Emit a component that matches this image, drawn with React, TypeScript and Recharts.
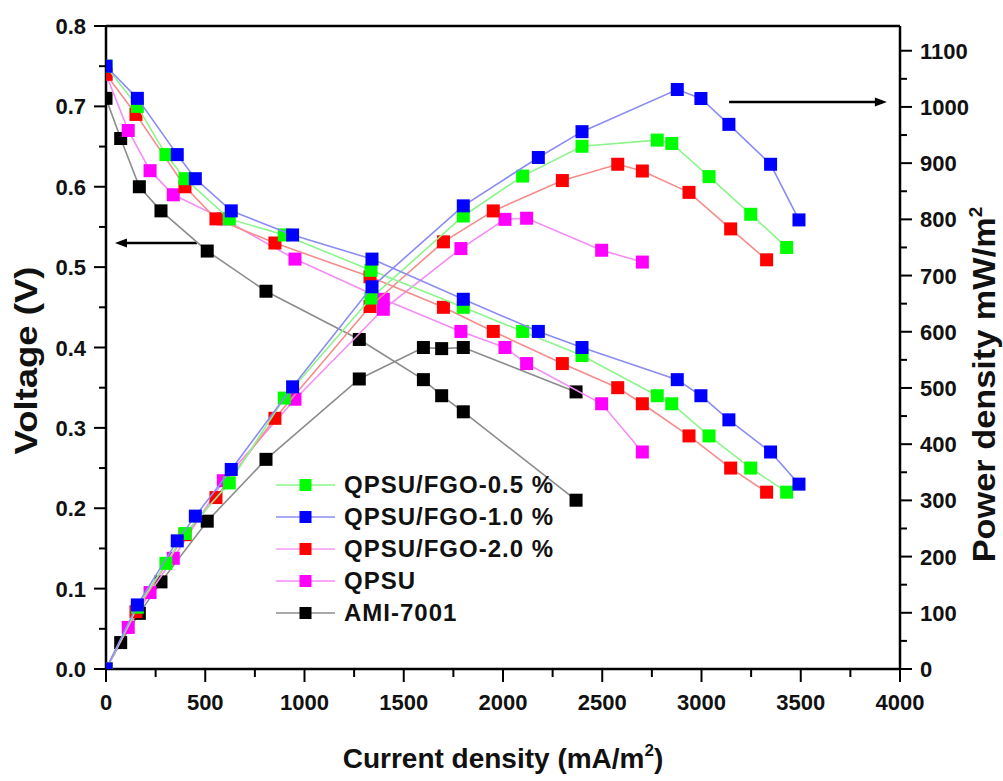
import React from 'react';
import { ScatterChart, Scatter, XAxis, YAxis, ReferenceLine, Legend } from 'recharts';

// current density (mA/m2), voltage (V), power density (mW/m2) per membrane
const currentFgo05 = [0, 158, 302, 398, 621, 898, 1335, 1800, 2099, 2398, 2777, 2850, 3038, 3248, 3429];
const voltageFgo05 = [0.75, 0.70, 0.64, 0.61, 0.56, 0.54, 0.496, 0.45, 0.42, 0.39, 0.34, 0.33, 0.29, 0.25, 0.22];
const powerFgo05 = [0, 110, 188, 241, 331, 482, 660, 806, 877, 930, 941, 935, 876, 809, 750];

const currentFgo10 = [0, 158, 359, 450, 631, 940, 1340, 1800, 2178, 2398, 2878, 2997, 3138, 3348, 3491];
const voltageFgo10 = [0.75, 0.71, 0.64, 0.61, 0.57, 0.54, 0.51, 0.46, 0.42, 0.40, 0.36, 0.34, 0.31, 0.27, 0.23];
const powerFgo10 = [0, 114, 228, 272, 355, 502, 680, 824, 910, 956, 1031, 1015, 969, 898, 799];

const currentFgo20 = [0, 151, 398, 554, 851, 1330, 1700, 1951, 2299, 2578, 2702, 2937, 3147, 3328];
const voltageFgo20 = [0.74, 0.69, 0.60, 0.56, 0.53, 0.488, 0.45, 0.42, 0.38, 0.35, 0.33, 0.29, 0.25, 0.22];
const powerFgo20 = [0, 102, 239, 305, 446, 645, 760, 815, 869, 898, 886, 848, 783, 728];

const currentQpsu = [0, 112, 222, 339, 591, 952, 1397, 1788, 2010, 2119, 2497, 2702];
const voltageQpsu = [0.74, 0.67, 0.62, 0.59, 0.56, 0.51, 0.46, 0.42, 0.40, 0.38, 0.33, 0.27];
const powerQpsu = [0, 74, 136, 197, 335, 480, 640, 748, 800, 802, 745, 724];

const currentAmi = [0, 74, 168, 277, 510, 806, 1276, 1599, 1691, 1800, 2368];
const voltageAmi = [0.71, 0.66, 0.60, 0.57, 0.52, 0.47, 0.41, 0.36, 0.34, 0.32, 0.21];
const powerAmi = [0, 47, 99, 155, 263, 373, 516, 572, 570, 572, 493];

const voltageTicks = [0, 0.05, 0.1, 0.15, 0.2, 0.25, 0.3, 0.35, 0.4, 0.45, 0.5, 0.55, 0.6, 0.65, 0.7, 0.75, 0.8];
const powerTicks = [0, 50, 100, 150, 200, 250, 300, 350, 400, 450, 500, 550, 600, 650, 700, 750, 800, 850, 900, 950, 1000, 1050, 1100];
const currentTicks = [0, 250, 500, 750, 1000, 1250, 1500, 1750, 2000, 2250, 2500, 2750, 3000, 3250, 3500, 3750, 4000];

// arrows telling which curves belong to which axis
const voltageArrow = [{ x: 458, y: 0.53 }, { x: 45, y: 0.53 }];
const powerArrow = [{ x: 3139, y: 1009 }, { x: 3934, y: 1009 }];

const FONT = '"Liberation Sans", Arial, sans-serif';

const series = [
  { name: 'QPSU/FGO-0.5 %', current: currentFgo05, voltage: voltageFgo05, power: powerFgo05, fill: '#00ff00', line: '#8cf58c', legendLine: '#8cf58c' },
  { name: 'QPSU/FGO-1.0 %', current: currentFgo10, voltage: voltageFgo10, power: powerFgo10, fill: '#0000ff', line: '#8c8cf5', legendLine: '#8c8cf5' },
  { name: 'QPSU/FGO-2.0 %', current: currentFgo20, voltage: voltageFgo20, power: powerFgo20, fill: '#ff0000', line: '#f58c8c', legendLine: '#f59cf5' },
  { name: 'QPSU', current: currentQpsu, voltage: voltageQpsu, power: powerQpsu, fill: '#ff00ff', line: '#f58cf5', legendLine: '#f58cf5' },
  { name: 'AMI-7001', current: currentAmi, voltage: voltageAmi, power: powerAmi, fill: '#000000', line: '#8c8c8c', legendLine: '#8c8c8c' },
];

// drawing order: black at the bottom, blue on top
const drawOrder = [4, 3, 2, 0, 1];

const tickText = { fontFamily: FONT, fontWeight: 700, fontSize: 22, fill: '#111' };

const LeftTick = (props: any) => {
  const { x, y, payload } = props;
  const v = payload.value;
  const major = Math.round(v * 100) % 10 === 0;
  return (
    <g>
      <line x1={x} y1={y} x2={x - (major ? 12 : 7)} y2={y} stroke="#000" strokeWidth={2} />
      {major && (
        <text x={x - 20} y={y + 8} textAnchor="end" {...tickText}>
          {v.toFixed(1)}
        </text>
      )}
    </g>
  );
};

const RightTick = (props: any) => {
  const { x, y, payload } = props;
  const v = payload.value;
  const major = v % 100 === 0;
  return (
    <g>
      <line x1={x} y1={y} x2={x + (major ? 12 : 7)} y2={y} stroke="#000" strokeWidth={2} />
      {major && (
        <text x={x + 20} y={y + 8} textAnchor="start" {...tickText}>
          {v}
        </text>
      )}
    </g>
  );
};

const BottomTick = (props: any) => {
  const { x, y, payload } = props;
  const v = payload.value;
  const major = v % 500 === 0;
  return (
    <g>
      <line x1={x} y1={y} x2={x} y2={y + (major ? 13 : 8)} stroke="#000" strokeWidth={2} />
      {major && (
        <text x={x} y={y + 41} textAnchor="middle" {...tickText}>
          {v}
        </text>
      )}
    </g>
  );
};

const ArrowShape = (p: any) => {
  const { x1, y1, x2, y2 } = p;
  const dir = Math.sign(x2 - x1);
  return (
    <g>
      <line x1={x1} y1={y1} x2={x2 - dir * 8} y2={y2} stroke="#000" strokeWidth={2.5} />
      <polygon points={`${x2},${y2} ${x2 - dir * 12},${y2 - 4.5} ${x2 - dir * 12},${y2 + 4.5}`} fill="#000" />
    </g>
  );
};

const titleStyle = { fontFamily: FONT, fontWeight: 700, fill: '#111' };

const voltageTitle = (props: any) => {
  const { x, y, height } = props.viewBox;
  return (
    <text
      transform={`translate(${x - 9}, ${y + height / 2 + 13}) rotate(-90)`}
      textAnchor="middle"
      fontSize={31}
      textLength={188}
      lengthAdjust="spacingAndGlyphs"
      {...titleStyle}
    >
      Voltage (V)
    </text>
  );
};

const powerTitle = (props: any) => {
  const { x, y, height } = props.viewBox;
  return (
    <text
      transform={`translate(${x + 95}, ${y + height / 2 + 37}) rotate(-90)`}
      textAnchor="middle"
      fontSize={31}
      {...titleStyle}
    >
      <tspan textLength={345} lengthAdjust="spacingAndGlyphs">Power density mW/m</tspan>
      <tspan dy={-13} fontSize={19}>2</tspan>
    </text>
  );
};

const currentTitle = (props: any) => {
  const { x, y, width } = props.viewBox;
  return (
    <text x={x + width / 2} y={y + 99} textAnchor="middle" fontSize={28} {...titleStyle}>
      Current density (mA/m<tspan dy={-12} fontSize={17}>2</tspan>
      <tspan dy={12}>)</tspan>
    </text>
  );
};

const LegendBox = () => (
  <div style={{ fontFamily: FONT, fontWeight: 700, fontSize: 24, letterSpacing: 1, color: '#111' }}>
    {series.map((s) => (
      <div key={s.name} style={{ display: 'flex', alignItems: 'center', height: 32 }}>
        <svg width={68} height={16} style={{ display: 'block' }}>
          <line x1={0} y1={8} x2={59} y2={8} stroke={s.legendLine} strokeWidth={1.5} />
          <rect x={23.5} y={2} width={12} height={12} fill={s.fill} />
        </svg>
        <span style={{ lineHeight: '32px' }}>{s.name}</span>
      </div>
    ))}
  </div>
);

export default function App() {
  return (
    <div style={{ position: 'absolute', left: 0, top: 0, background: '#fff' }}>
      <ScatterChart width={1003} height={781} margin={{ top: 26, right: 33, bottom: 62, left: 46 }}>
        <XAxis
          xAxisId="x"
          dataKey="x"
          type="number"
          domain={[0, 4000]}
          ticks={currentTicks}
          interval={0}
          allowDataOverflow
          height={50}
          tickSize={0}
          tickMargin={0}
          tickLine={false}
          tick={<BottomTick />}
          axisLine={{ stroke: '#000', strokeWidth: 2.5 }}
          label={currentTitle}
        />
        <YAxis
          yAxisId="left"
          dataKey="y"
          type="number"
          domain={[0, 0.8]}
          ticks={voltageTicks}
          interval={0}
          allowDataOverflow
          width={60}
          tickSize={0}
          tickMargin={0}
          tickLine={false}
          tick={<LeftTick />}
          axisLine={{ stroke: '#000', strokeWidth: 2.5 }}
          label={voltageTitle}
        />
        <YAxis
          yAxisId="right"
          orientation="right"
          dataKey="y"
          type="number"
          domain={[0, 1144]}
          ticks={powerTicks}
          interval={0}
          allowDataOverflow
          width={70}
          tickSize={0}
          tickMargin={0}
          tickLine={false}
          tick={<RightTick />}
          axisLine={{ stroke: '#000', strokeWidth: 2.5 }}
          label={powerTitle}
        />
        <ReferenceLine xAxisId="x" yAxisId="left" y={0.8} stroke="#000" strokeWidth={2.5} />
        <ReferenceLine xAxisId="x" yAxisId="left" segment={voltageArrow} shape={ArrowShape} />
        <ReferenceLine xAxisId="x" yAxisId="right" segment={powerArrow} shape={ArrowShape} />
        {drawOrder.map((i) => {
          const s = series[i];
          const vData = s.current.map((c, k) => ({ x: c, y: s.voltage[k] }));
          const pData = s.current.map((c, k) => ({ x: c, y: s.power[k] }));
          const marker = (p: any) => (
            <rect x={p.cx - 6.5} y={p.cy - 6.5} width={13} height={13} fill={s.fill} />
          );
          return [
            <Scatter
              key={s.name + '-v'}
              name={s.name}
              data={vData}
              xAxisId="x"
              yAxisId="left"
              fill={s.fill}
              line={{ stroke: s.line, strokeWidth: 1.6 }}
              shape={marker}
              isAnimationActive={false}
            />,
            <Scatter
              key={s.name + '-p'}
              name={s.name + ' power'}
              data={pData}
              xAxisId="x"
              yAxisId="right"
              fill={s.fill}
              line={{ stroke: s.line, strokeWidth: 1.6 }}
              shape={marker}
              isAnimationActive={false}
              legendType="none"
            />,
          ];
        })}
        <Legend
          layout="vertical"
          align="center"
          verticalAlign="middle"
          content={<LegendBox />}
          wrapperStyle={{ left: 276, top: 469, width: 300 }}
        />
      </ScatterChart>
    </div>
  );
}
